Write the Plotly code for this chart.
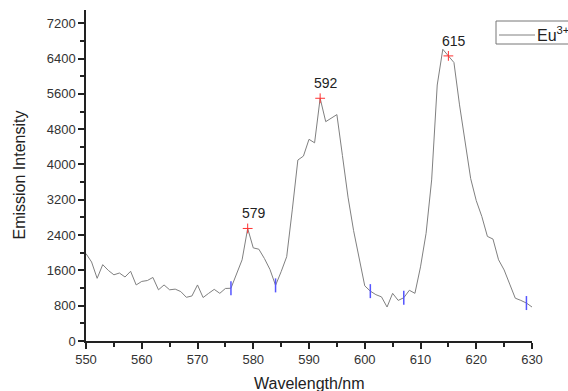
import plotly.graph_objects as go

wavelength = list(range(550, 631))
intensity = [1980, 1790, 1420, 1730, 1600, 1500, 1540, 1450, 1580, 1270,
             1350, 1370, 1440, 1160, 1270, 1160, 1175, 1120, 990, 1020,
             1270, 985, 1080, 1170, 1080, 1190, 1195, 1520, 1840, 2550,
             2110, 2080, 1870, 1620, 1260, 1570, 1910, 2970, 4100, 4190,
             4570, 4490, 5500, 4970, 5050, 5130, 4200, 3260, 2500, 1900,
             1250, 1130, 1050, 1000, 770, 1080, 920, 980, 1150, 1080,
             1680, 2440, 3650, 5800, 6610, 6460, 6310, 5350, 4500, 3680,
             3180, 2820, 2370, 2310, 1840, 1610, 1290, 970, 920, 860, 770]
peak_x = [579, 592, 615]
peak_labels = ["579", "592", "615"]
base_x = [576, 584, 601, 607, 629]
series_name = "Eu<sup>3+</sup>"

lookup = dict(zip(wavelength, intensity))
peak_y = [lookup[x] for x in peak_x]
base_y = [lookup[x] for x in base_x]

FONT = "Arial, Liberation Sans, sans-serif"
W, H = 568, 391
L, R, T, B = 86, 36, 10, 50
PW, PH = W - L - R, H - T - B


def px(xp):
    return (xp - L) / PW


def py(yp):
    return (H - B - yp) / PH


fig = go.Figure()
fig.add_trace(go.Scatter(x=wavelength, y=intensity, mode="lines",
                         line=dict(color="#808080", width=1),
                         name=series_name, showlegend=False))
fig.add_trace(go.Scatter(x=base_x, y=base_y, mode="markers", showlegend=False,
                         marker=dict(symbol="line-ns", size=10,
                                     line=dict(color="#5555ff", width=1.5))))
fig.add_trace(go.Scatter(x=peak_x, y=peak_y, mode="markers", showlegend=False,
                         marker=dict(symbol="cross-thin", size=7,
                                     line=dict(color="#ff3333", width=1))))

for x, y, t in zip(peak_x, peak_y, peak_labels):
    fig.add_annotation(x=x, y=y, text=t, showarrow=False, xshift=6, yshift=15,
                       font=dict(family=FONT, size=14, color="#222222"))

# titles
fig.add_annotation(xref="paper", yref="paper", x=0, y=0.5, xshift=19 - L,
                   text="Emission Intensity", textangle=-90, showarrow=False,
                   xanchor="center", yanchor="middle",
                   font=dict(family=FONT, size=16, color="#222222"))
fig.add_annotation(xref="paper", yref="paper", x=0.5, y=0, yshift=-42,
                   text="Wavelength/nm", showarrow=False,
                   xanchor="center", yanchor="middle",
                   font=dict(family=FONT, size=16, color="#222222"))

# legend box drawn manually
fig.add_shape(type="rect", xref="paper", yref="paper",
              x0=px(496), x1=px(590), y0=py(44), y1=py(21),
              line=dict(color="#777777", width=1), fillcolor="white", layer="above")
fig.add_shape(type="line", xref="paper", yref="paper",
              x0=px(499), x1=px(535), y0=py(35), y1=py(35),
              line=dict(color="#808080", width=1), layer="above")
fig.add_annotation(xref="paper", yref="paper", x=px(535), y=py(34),
                   text=series_name, showarrow=False, xanchor="left", yanchor="middle",
                   font=dict(family=FONT, size=16, color="#222222"))

axis_common = dict(showline=True, linecolor="#222222", linewidth=1.5,
                   ticks="outside", ticklen=6, tickwidth=1.5, tickcolor="#222222",
                   showgrid=False, zeroline=False,
                   tickfont=dict(family=FONT, size=13, color="#333333"))

fig.update_xaxes(range=[550, 630], dtick=10, tick0=550,
                 minor=dict(dtick=5, ticklen=4, tickwidth=1.5, tickcolor="#222222", ticks="outside"),
                 **axis_common)
fig.update_yaxes(range=[0, 7500], dtick=800, tick0=0,
                 minor=dict(dtick=400, ticklen=4, tickwidth=1.5, tickcolor="#222222", ticks="outside"),
                 **axis_common)

fig.update_layout(
    width=W, height=H,
    margin=dict(l=L, r=R, t=T, b=B, autoexpand=False),
    plot_bgcolor="white", paper_bgcolor="white",
    showlegend=False,
)

fig.write_html("out.html")
